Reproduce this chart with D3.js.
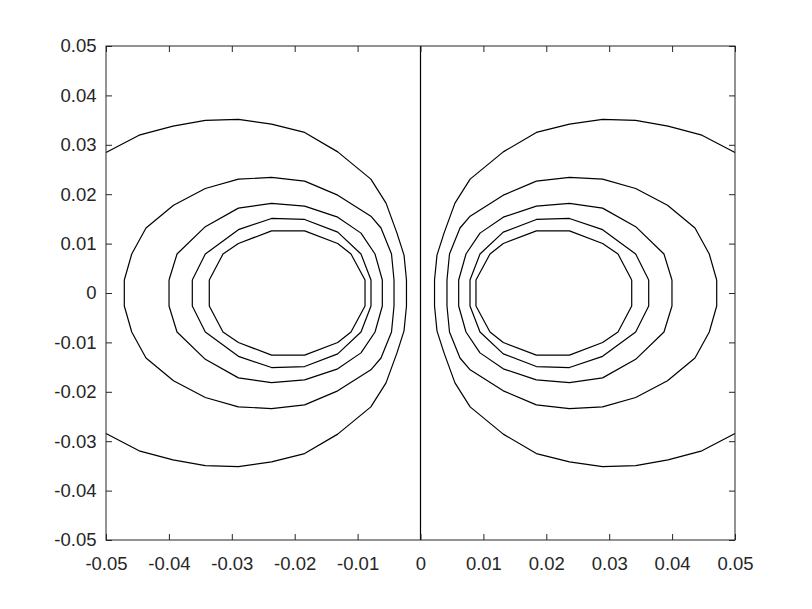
<!DOCTYPE html>
<html><head><meta charset="utf-8">
<script src="https://cdn.jsdelivr.net/npm/d3@7"></script>
<style>body{margin:0;background:#fff}svg{display:block}text{font-family:"Liberation Sans",Arial,sans-serif;fill:#262626}</style>
</head><body>
<svg id="c" width="812" height="609"></svg>
<script>
const xTicks = [-0.05,-0.04,-0.03,-0.02,-0.01,0,0.01,0.02,0.03,0.04,0.05];
const yTicks = [-0.05,-0.04,-0.03,-0.02,-0.01,0,0.01,0.02,0.03,0.04,0.05];
const xTickLabels = ["-0.05","-0.04","-0.03","-0.02","-0.01","0","0.01","0.02","0.03","0.04","0.05"];
const yTickLabels = ["-0.05","-0.04","-0.03","-0.02","-0.01","0","0.01","0.02","0.03","0.04","0.05"];

// contour polylines [x, y]
const zeroLine = [[0,-0.05],[0,0.05]];
const leftC1 = [[-0.05,0.02845],[-0.04474,0.03195],[-0.03935,0.03378],[-0.03421,0.03493],[-0.02895,0.03513],[-0.02368,0.03418],[-0.01842,0.0325],[-0.01316,0.02857],[-0.00789,0.02305],[-0.00548,0.01819],[-0.00374,0.01212],[-0.00262,0.00766],[-0.00223,0.00263],[-0.00223,-0.00263],[-0.00262,-0.00766],[-0.00374,-0.01212],[-0.00548,-0.01819],[-0.00789,-0.02305],[-0.01316,-0.02857],[-0.01842,-0.0325],[-0.02368,-0.03418],[-0.02895,-0.03513],[-0.03421,-0.03493],[-0.03935,-0.03378],[-0.04474,-0.03195],[-0.05,-0.02845]];
const leftC2 = [[-0.04709,0.00263],[-0.04591,0.00789],[-0.04364,0.01316],[-0.03927,0.01778],[-0.03421,0.02116],[-0.02895,0.02305],[-0.02368,0.02339],[-0.01842,0.02264],[-0.01316,0.01981],[-0.00789,0.01556],[-0.00628,0.01316],[-0.00461,0.00789],[-0.00421,0.00263],[-0.00421,-0.00263],[-0.00461,-0.00789],[-0.00628,-0.01316],[-0.00789,-0.01556],[-0.01316,-0.01981],[-0.01842,-0.02264],[-0.02368,-0.02339],[-0.02895,-0.02305],[-0.03421,-0.02116],[-0.03927,-0.01778],[-0.04364,-0.01316],[-0.04591,-0.00789],[-0.04709,-0.00263],[-0.04709,0.00263]];
const leftC3 = [[-0.03998,0.00263],[-0.03871,0.00789],[-0.03421,0.01343],[-0.02895,0.01718],[-0.02368,0.01813],[-0.01842,0.01758],[-0.01316,0.01535],[-0.00946,0.01212],[-0.00723,0.00789],[-0.00607,0.00263],[-0.00607,-0.00263],[-0.00723,-0.00789],[-0.00946,-0.01212],[-0.01316,-0.01535],[-0.01842,-0.01758],[-0.02368,-0.01813],[-0.02895,-0.01718],[-0.03421,-0.01343],[-0.03871,-0.00789],[-0.03998,-0.00263],[-0.03998,0.00263]];
const leftC4 = [[-0.03628,0.00263],[-0.03421,0.00789],[-0.02895,0.01282],[-0.02368,0.01509],[-0.01842,0.01489],[-0.01316,0.01232],[-0.00946,0.00789],[-0.00787,0.00263],[-0.00787,-0.00263],[-0.00946,-0.00789],[-0.01316,-0.01232],[-0.01842,-0.01489],[-0.02368,-0.01509],[-0.02895,-0.01282],[-0.03421,-0.00789],[-0.03628,-0.00263],[-0.03628,0.00263]];
const leftC5 = [[-0.03358,0.00263],[-0.0314,0.00789],[-0.02895,0.01003],[-0.02368,0.01258],[-0.01842,0.01258],[-0.01316,0.01003],[-0.01105,0.00789],[-0.00882,0.00263],[-0.00882,-0.00263],[-0.01105,-0.00789],[-0.01316,-0.01003],[-0.01842,-0.01258],[-0.02368,-0.01258],[-0.02895,-0.01003],[-0.0314,-0.00789],[-0.03358,-0.00263],[-0.03358,0.00263]];
const rightC1 = [[0.05,0.02845],[0.04474,0.03195],[0.03935,0.03378],[0.03421,0.03493],[0.02895,0.03513],[0.02368,0.03418],[0.01842,0.0325],[0.01316,0.02857],[0.00789,0.02305],[0.00548,0.01819],[0.00374,0.01212],[0.00262,0.00766],[0.00223,0.00263],[0.00223,-0.00263],[0.00262,-0.00766],[0.00374,-0.01212],[0.00548,-0.01819],[0.00789,-0.02305],[0.01316,-0.02857],[0.01842,-0.0325],[0.02368,-0.03418],[0.02895,-0.03513],[0.03421,-0.03493],[0.03935,-0.03378],[0.04474,-0.03195],[0.05,-0.02845]];
const rightC2 = [[0.04709,0.00263],[0.04591,0.00789],[0.04364,0.01316],[0.03927,0.01778],[0.03421,0.02116],[0.02895,0.02305],[0.02368,0.02339],[0.01842,0.02264],[0.01316,0.01981],[0.00789,0.01556],[0.00628,0.01316],[0.00461,0.00789],[0.00421,0.00263],[0.00421,-0.00263],[0.00461,-0.00789],[0.00628,-0.01316],[0.00789,-0.01556],[0.01316,-0.01981],[0.01842,-0.02264],[0.02368,-0.02339],[0.02895,-0.02305],[0.03421,-0.02116],[0.03927,-0.01778],[0.04364,-0.01316],[0.04591,-0.00789],[0.04709,-0.00263],[0.04709,0.00263]];
const rightC3 = [[0.03998,0.00263],[0.03871,0.00789],[0.03421,0.01343],[0.02895,0.01718],[0.02368,0.01813],[0.01842,0.01758],[0.01316,0.01535],[0.00946,0.01212],[0.00723,0.00789],[0.00607,0.00263],[0.00607,-0.00263],[0.00723,-0.00789],[0.00946,-0.01212],[0.01316,-0.01535],[0.01842,-0.01758],[0.02368,-0.01813],[0.02895,-0.01718],[0.03421,-0.01343],[0.03871,-0.00789],[0.03998,-0.00263],[0.03998,0.00263]];
const rightC4 = [[0.03628,0.00263],[0.03421,0.00789],[0.02895,0.01282],[0.02368,0.01509],[0.01842,0.01489],[0.01316,0.01232],[0.00946,0.00789],[0.00787,0.00263],[0.00787,-0.00263],[0.00946,-0.00789],[0.01316,-0.01232],[0.01842,-0.01489],[0.02368,-0.01509],[0.02895,-0.01282],[0.03421,-0.00789],[0.03628,-0.00263],[0.03628,0.00263]];
const rightC5 = [[0.03358,0.00263],[0.0314,0.00789],[0.02895,0.01003],[0.02368,0.01258],[0.01842,0.01258],[0.01316,0.01003],[0.01105,0.00789],[0.00882,0.00263],[0.00882,-0.00263],[0.01105,-0.00789],[0.01316,-0.01003],[0.01842,-0.01258],[0.02368,-0.01258],[0.02895,-0.01003],[0.0314,-0.00789],[0.03358,-0.00263],[0.03358,0.00263]];

const contours = [zeroLine,leftC1,leftC2,leftC3,leftC4,leftC5,rightC1,rightC2,rightC3,rightC4,rightC5];

const L=106, R=735, T=46, B=540;
const FS = 18.5;
const svg = d3.select("#c");
const x = d3.scaleLinear().domain([-0.05,0.05]).range([L,R]);
const y = d3.scaleLinear().domain([-0.05,0.05]).range([B,T]);
const line = d3.line().x(d=>x(d[0])).y(d=>y(d[1]));

svg.append("g").selectAll("path").data(contours).join("path")
  .attr("d", line).attr("fill","none").attr("stroke","#000").attr("stroke-width",1.2)
  .attr("stroke-linejoin","round");

const tl = 6;
const fmtX = (d,i)=>xTickLabels[i];
const fmtY = (d,i)=>yTickLabels[i];
const ax = (g)=>{g.selectAll("line").attr("stroke","#262626");};
const txt = (g)=>g.selectAll("text").attr("font-size",FS).attr("fill","#262626").attr("font-family","Liberation Sans, Arial, sans-serif");
svg.append("g").attr("transform",`translate(0,${B})`)
  .call(d3.axisBottom(x).tickValues(xTicks).tickFormat(fmtX).tickSizeInner(-tl).tickSizeOuter(0).tickPadding(17))
  .call(ax).call(txt);
svg.append("g").attr("transform",`translate(0,${T})`)
  .call(d3.axisTop(x).tickValues(xTicks).tickFormat("").tickSizeInner(-tl).tickSizeOuter(0)).call(ax);
svg.append("g").attr("transform",`translate(${L},0)`)
  .call(d3.axisLeft(y).tickValues(yTicks).tickFormat(fmtY).tickSizeInner(-tl).tickSizeOuter(0).tickPadding(9.5))
  .call(ax).call(txt);
svg.append("g").attr("transform",`translate(${R},0)`)
  .call(d3.axisRight(y).tickValues(yTicks).tickFormat("").tickSizeInner(-tl).tickSizeOuter(0)).call(ax);
svg.selectAll(".domain").remove();
svg.append("rect").attr("x",L).attr("y",T).attr("width",R-L).attr("height",B-T)
  .attr("fill","none").attr("stroke","#262626").attr("stroke-width",1);
</script>
</body></html>
